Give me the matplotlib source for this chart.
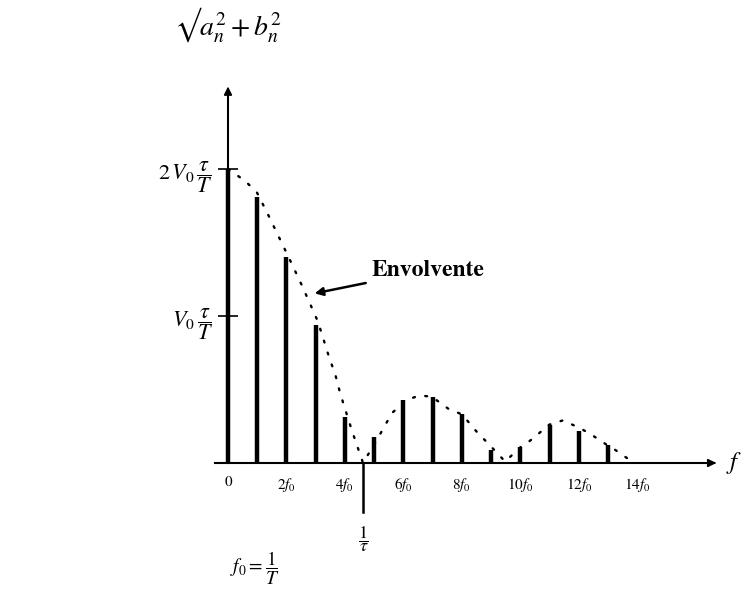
import matplotlib.pyplot as plt

plt.rcParams['mathtext.fontset'] = 'stix'
plt.rcParams['font.family'] = ['STIXGeneral', 'DejaVu Serif']

# spectral lines: harmonic number n (multiples of f0) and amplitude in units of V0*tau/T
harmonics = [0, 1, 2, 3, 4, 5, 6, 7, 8, 9, 10, 11, 12, 13]
amplitudes = [2.0, 1.81, 1.40, 0.94, 0.31, 0.18, 0.43, 0.45, 0.33, 0.09, 0.11, 0.26, 0.22, 0.12]

# envelope
env_x = [0.0, 0.58, 0.99, 1.37, 2.05, 2.50, 2.77, 3.08, 3.49, 3.66, 3.83, 3.97, 4.24, 4.62,
         5.13, 5.44, 5.61, 6.12, 6.57, 6.98, 7.53, 8.01, 8.52, 8.96, 9.48,
         10.02, 10.26, 10.57, 10.98, 11.46, 12.01, 12.38, 12.83, 13.24, 13.82]
env_y = [2.0, 1.92, 1.84, 1.69, 1.41, 1.22, 1.10, 0.96, 0.70, 0.61, 0.48, 0.39, 0.22, 0.0,
         0.17, 0.28, 0.34, 0.43, 0.46, 0.45, 0.37, 0.33, 0.21, 0.12, 0.01,
         0.11, 0.14, 0.19, 0.26, 0.29, 0.24, 0.20, 0.14, 0.09, 0.01]

xtick_pos = [0, 2, 4, 6, 8, 10, 12, 14]
xtick_labels = ['0', '$2f_0$', '$4f_0$', '$6f_0$', '$8f_0$', '$10f_0$', '$12f_0$', '$14f_0$']
ytick_pos = [1, 2]
ytick_labels = [r'$V_0\,\dfrac{\tau}{T}$', r'$2\,V_0\,\dfrac{\tau}{T}$']
first_zero = 4.62   # 1/tau

# pixel scale of the original drawing
px_per_f0 = 29.23
px_per_unit = 147.0
x0_px, y0_px = 228, 463

fig = plt.figure(figsize=(7.45, 5.93), dpi=100)
ax = fig.add_axes([0, 0, 1, 1])
ax.set_xlim(-x0_px / px_per_f0, (745 - x0_px) / px_per_f0)
ax.set_ylim((y0_px - 593) / px_per_unit, y0_px / px_per_unit)

# lines + envelope
ax.vlines(harmonics, 0, amplitudes, colors='black', lw=3.2)
ax.plot(env_x, env_y, color='black', lw=1.7, ls=(0, (0.8, 4.5)), dash_capstyle='round')

# axes through the origin
for side in ['top', 'right']:
    ax.spines[side].set_visible(False)
ax.spines['left'].set_position(('data', 0))
ax.spines['bottom'].set_position(('data', 0))
ax.spines['left'].set_bounds(0, 2.5)
ax.spines['bottom'].set_bounds(-0.45, 16.6)
ax.spines['left'].set_linewidth(1.5)
ax.spines['bottom'].set_linewidth(1.5)
ax.annotate('', xy=(0, 2.58), xytext=(0, 2.45),
            arrowprops=dict(arrowstyle='-|>', color='black', lw=1.2, mutation_scale=12))
ax.annotate('', xy=(16.8, 0), xytext=(16.5, 0),
            arrowprops=dict(arrowstyle='-|>', color='black', lw=1.2, mutation_scale=12))

ax.set_xticks(xtick_pos)
ax.set_xticklabels(xtick_labels, fontsize=11)
ax.tick_params(axis='x', length=0, pad=9)
ax.set_yticks(ytick_pos)
ax.set_yticklabels(ytick_labels, fontsize=16)
ax.tick_params(axis='y', direction='inout', length=14, width=1.2, pad=4)

ax.text(17.3, 0.0, '$f$', fontsize=18, ha='center', va='center')
ax.text(0.0, 2.98, '√' + r'$a_n^2 + b_n^2$', fontsize=20, ha='center', va='center')

# 1/tau marker
ax.plot([first_zero, first_zero], [0, -0.33], color='black', lw=1.8)
ax.text(first_zero, -0.52, r'$\dfrac{1}{\tau}$', fontsize=13, ha='center', va='center')
ax.text(0.92, -0.72, r'$f_0 = \dfrac{1}{T}$', fontsize=14, ha='center', va='center')

ax.annotate('Envolvente', xy=(2.87, 1.15), xytext=(4.9, 1.31),
            fontsize=17, fontweight='bold', ha='left', va='center',
            arrowprops=dict(arrowstyle='-|>', color='black', lw=1.8, mutation_scale=12))

fig.savefig('out.png', dpi=100)
